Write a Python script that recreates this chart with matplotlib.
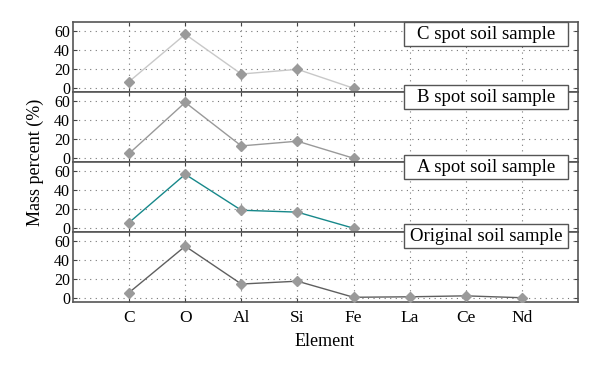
import matplotlib
matplotlib.use("Agg")
import matplotlib.pyplot as plt
from matplotlib.patches import Rectangle
import numpy as np

elements = ["C", "O", "Al", "Si", "Fe", "La", "Ce", "Nd"]
c_spot = [7, 57, 15, 20, 0]
b_spot = [5, 59, 13, 18, 0]
a_spot = [6, 57, 19, 17, 0]
original = [6, 55, 15, 18, 1, 1.5, 2.5, 0.5]
labels = ["C spot soil sample", "B spot soil sample", "A spot soil sample", "Original soil sample"]
line_colors = ["#c8c8c8", "#999999", "#17888a", "#5f5f5f"]
yticks = [0, 20, 40, 60]

plt.rcParams['font.family'] = ['Liberation Serif', 'DejaVu Serif']
fig = plt.figure(figsize=(6, 3.69), dpi=100)
W, H = 600, 369

left, right = 73/W, 578/W
top, bottom = 1 - 22/H, 1 - 302/H
h = (top - bottom) / 4
series = [c_spot, b_spot, a_spot, original]
for i, (vals, col) in enumerate(zip(series, line_colors)):
    ax = fig.add_axes([left, top - (i + 1) * h, right - left, h])
    x = np.arange(1, len(vals) + 1)
    ax.plot(x, vals, color=col, lw=1.0, marker='D', markersize=5,
            markerfacecolor='#9a9a9a', markeredgecolor='#9a9a9a', zorder=3)
    ax.set_xlim(0, 9)
    ax.set_ylim(-4, 70)
    ax.set_yticks(yticks)
    ax.set_xticks(np.arange(1, 9))
    ax.grid(True, linestyle=(0, (1, 4)), color='#777777', lw=0.8)
    ax.tick_params(direction='in', left=True, right=True, top=True, bottom=True,
                   labelsize=11.5, length=3, color='#444444', pad=2)
    ax.tick_params(axis='x', pad=6)
    for s in ax.spines.values():
        s.set_color('#555555')
        s.set_linewidth(1.2)
    if i < 3:
        ax.set_xticklabels([])
    else:
        ax.set_xticklabels(elements, fontsize=12.5)

# legend boxes
box_tops = [22, 85, 155, 224]
bx0, bx1, bh = 404, 568, 24
for lab, ty in zip(labels, box_tops):
    fig.patches.append(Rectangle((bx0/W, 1 - (ty + bh)/H), (bx1 - bx0)/W, bh/H,
                                 transform=fig.transFigure, fc='white', ec='#555555',
                                 lw=1.0, zorder=10))
    fig.text((bx0 + bx1)/2/W, 1 - (ty + bh/2 + 0.5)/H, lab, ha='center', va='center',
             fontsize=13.5, zorder=11)

fig.text(35/W, 1 - 162/H, "Mass percent (%)", rotation=90, ha='center', va='center', fontsize=13)
fig.text(325/W, 1 - 341/H, "Element", ha='center', va='center', fontsize=13)

fig.savefig("out.png", dpi=100)
